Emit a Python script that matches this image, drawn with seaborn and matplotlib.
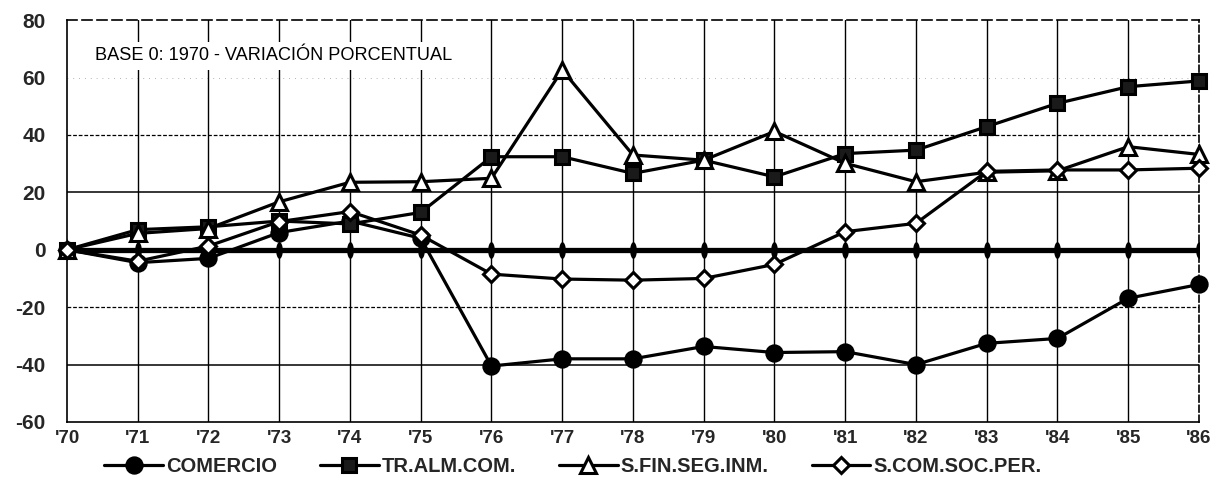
import numpy as np
import pandas as pd
import matplotlib
matplotlib.use("Agg")
import matplotlib.pyplot as plt
import seaborn as sns

# Percentage change relative to 1970 for each sector
years = list(range(1970, 1987))
year_labels = ["'70", "'71", "'72", "'73", "'74", "'75", "'76", "'77", "'78",
               "'79", "'80", "'81", "'82", "'83", "'84", "'85", "'86"]

comercio = [0, -4.5, -3, 6, 10, 4, -40.5, -38, -38, -33.7, -35.8, -35.5,
            -40, -32.6, -30.9, -16.9, -12.1]
tr_alm_com = [0, 7, 8, 10, 9, 13, 32.4, 32.4, 26.6, 31.2, 25.4, 33.5,
              34.7, 42.9, 51, 56.8, 58.8]
s_fin_seg_inm = [0, 5.7, 7.4, 16.7, 23.5, 23.7, 24.9, 62.6, 33, 31.2, 41.2,
                 30.1, 23.7, 27, 27.5, 35.9, 33.2]
s_com_soc_per = [0, -4, 1.3, 9.8, 13.3, 5.1, -8.5, -10.2, -10.6, -10, -5.1,
                 6.3, 9.2, 27.3, 27.8, 27.8, 28.4]
base_zero = [0] * len(years)

series_names = ["COMERCIO", "TR.ALM.COM.", "S.FIN.SEG.INM.", "S.COM.SOC.PER."]
y_ticks = [-60, -40, -20, 0, 20, 40, 60, 80]

sns.set_theme(style="white")
plt.rcParams["font.family"] = ["Liberation Sans", "DejaVu Sans"]

fig = plt.figure(figsize=(12.16, 4.90), dpi=100)
ax = fig.add_axes([0.0551, 0.1388, 0.9309, 0.8202])

# grid
for yv in y_ticks:
    if yv in (40, -20):
        ax.axhline(yv, color="black", lw=0.9, ls=(0, (3, 1.5)), zorder=1)
    elif yv == 60:
        ax.axhline(yv, color="#999999", lw=0.6, ls=(0, (1, 6)), zorder=1)
    elif yv in (20, -40):
        ax.axhline(yv, color="black", lw=1.1, zorder=1)
for xv in years[1:-1]:
    ax.axvline(xv, color="black", lw=1.0, zorder=1)

# thick baseline at zero with small tick marks at each year
ellipse = [(0.4 * np.cos(t), np.sin(t)) for t in np.linspace(0, 2 * np.pi, 30)]
sns.lineplot(x=years, y=base_zero, ax=ax, color="black", linewidth=3.8,
             marker=ellipse, markersize=12, markeredgewidth=0,
             markerfacecolor="black", zorder=2, legend=False)

data = pd.DataFrame({"year": years, series_names[0]: comercio,
                     series_names[1]: tr_alm_com, series_names[2]: s_fin_seg_inm,
                     series_names[3]: s_com_soc_per})

styles = {
    "COMERCIO": dict(marker="o", markersize=11, markerfacecolor="black"),
    "TR.ALM.COM.": dict(marker="s", markersize=10.5, markerfacecolor="#1a1a1a"),
    "S.FIN.SEG.INM.": dict(marker="^", markersize=11, markerfacecolor="white"),
    "S.COM.SOC.PER.": dict(marker="D", markersize=8.5, markerfacecolor="white"),
}
for name in series_names:
    sns.lineplot(data=data, x="year", y=name, ax=ax, color="black",
                 linewidth=2.3, markeredgecolor="black", markeredgewidth=2.2,
                 label=name, zorder=3, clip_on=False, **styles[name])

ax.set_xlim(1970, 1986)
ax.set_ylim(-60, 80)
ax.set_yticks(y_ticks)
ax.set_yticklabels([str(v) for v in y_ticks], fontsize=15, fontweight="bold")
ax.set_xticks(years)
ax.set_xticklabels(year_labels, fontsize=13.5, fontweight="bold")
ax.tick_params(axis="x", pad=6, length=0)
ax.tick_params(axis="y", pad=15.5, length=0)
ax.set_xlabel("")
ax.set_ylabel("")

for side in ["left", "bottom", "top", "right"]:
    ax.spines[side].set_color("black")
    ax.spines[side].set_linewidth(1.2)
ax.spines["top"].set_linestyle((0, (6, 3)))
ax.spines["right"].set_linestyle((0, (4, 2)))

ax.text(1970.4, 67.5, "BASE 0: 1970 - VARIACIÓN PORCENTUAL", fontsize=13.1,
        ha="left", va="center", color="black", zorder=4,
        bbox=dict(facecolor="white", edgecolor="none", pad=4))

leg = ax.legend(loc="center", bbox_to_anchor=(0.447, -0.11), ncol=4,
                frameon=False, handlelength=2.9, handletextpad=0.15,
                columnspacing=2.15, borderaxespad=0,
                prop={"weight": "bold", "size": 14.5})

fig.savefig("out.png", dpi=100, facecolor="white")
